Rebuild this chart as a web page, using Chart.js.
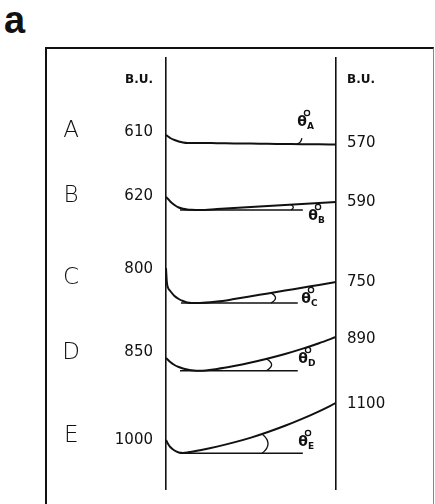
<!DOCTYPE html>
<html>
<head>
<meta charset="utf-8">
<script src="https://cdn.jsdelivr.net/npm/chart.js@4.4.1/dist/chart.umd.min.js"></script>
<style>
  body { margin: 0; background: #fff; }
  #wrap { position: relative; width: 435px; height: 504px; overflow: hidden; }
  #panel { position: absolute; left: 45px; top: 47px; width: 386px; height: 480px;
           border-top: 2px solid #111; border-left: 2px solid #111; border-right: 1px solid #888; }
  #tag { position: absolute; left: 4px; top: 1px; font: bold 38px 'Liberation Sans', Arial, sans-serif; line-height: 1; color: #111; }
  canvas { position: absolute; left: 0; top: 0; }
</style>
</head>
<body>
<div id="wrap">
  <div id="panel"></div>
  <div id="tag">a</div>
  <canvas id="chart" width="435" height="504"></canvas>
</div>
<script>
// mixing time (min) shared by all five traces
const minutes = [0, 0.1, 0.25, 0.5, 1, 1.5, 2, 2.5, 3, 4, 6, 8, 10, 12, 14, 16, 18, 20];
// trace heights, stacked top (A) to bottom (E)
const curveA = [354, 353.4, 352.5, 351, 349, 347.5, 346.5, 346, 346, 346, 345.8, 345.6, 345.4, 345.2, 345, 344.8, 344.7, 344.5];
const curveB = [292, 291.2, 290, 287.5, 284, 281.5, 280.2, 279.5, 279.2, 279, 280, 281, 282, 283, 284, 285, 286, 287];
const curveC = [221, 207, 201, 198, 193, 190, 188, 186.5, 186, 186, 187.4, 189.9, 192.7, 195.6, 198.4, 201.3, 204.1, 207];
const curveD = [131, 130.2, 129, 127, 124, 122, 120.5, 119.5, 118.8, 118.2, 120.1, 123, 126.5, 130.5, 135, 140.1, 145.8, 152];
const curveE = [49, 47.4, 45, 42, 38.5, 36.5, 36, 36.4, 37.3, 38.8, 42.4, 46.6, 51.4, 57, 63.2, 70.1, 77.7, 86];

const samples = ['A', 'B', 'C', 'D', 'E'];
const letterLevels = [357.5, 292.5, 211, 136, 52.5];

// B.U. readings at start and end of each trace
const startLabels = ['B.U.', '610', '620', '800', '850', '1000'];
const startLevels = [409, 357, 292.5, 220, 136.5, 49];
const endLabels = ['B.U.', '570', '590', '750', '890', '1100'];
const endLevels = [409, 346, 287, 207, 150, 85];

// horizontal reference lines under traces B..E
const baseLevel = [279, 186, 118.3, 35.7];
const baseFrom = [1.65, 1.76, 1.65, 1.76];
const baseTo = [16.1, 15.5, 15.5, 16.1];

// where the angle arcs sit and where the theta labels go (A..E)
const arcAt = [15.4, 14.7, 12.35, 11.8, 11.3];
const thetaT = [16.0, 17.3, 16.47, 16.12, 16.12];
const thetaV = [363, 269, 186, 126, 43];

const curves = [curveA, curveB, curveC, curveD, curveE];
const INK = '#111';

function valueAt(curve, t) {
  for (let i = 1; i < minutes.length; i++) {
    if (t <= minutes[i]) {
      const f = (t - minutes[i - 1]) / (minutes[i] - minutes[i - 1]);
      return curve[i - 1] + f * (curve[i] - curve[i - 1]);
    }
  }
  return curve[curve.length - 1];
}

const datasets = curves.map(c => ({
  data: minutes.map((m, i) => ({ x: m, y: c[i] })),
  borderColor: INK,
  borderWidth: 2,
  pointRadius: 0,
  cubicInterpolationMode: 'monotone',
  fill: false
})).concat(baseLevel.map((lv, i) => ({
  data: [{ x: baseFrom[i], y: lv }, { x: baseTo[i], y: lv }],
  borderColor: INK,
  borderWidth: 1.4,
  pointRadius: 0,
  fill: false
})));

// angle arcs and theta symbols
const angleMarks = {
  id: 'angleMarks',
  afterDatasetsDraw(chart) {
    const { ctx, scales: { x, y } } = chart;
    ctx.save();
    ctx.strokeStyle = INK;
    ctx.fillStyle = INK;
    ctx.lineWidth = 1.3;
    samples.forEach((s, i) => {
      const px = x.getPixelForValue(arcAt[i]);
      const top = y.getPixelForValue(valueAt(curves[i], arcAt[i]));
      ctx.beginPath();
      if (i === 0) {
        ctx.moveTo(px, top);
        ctx.quadraticCurveTo(px + 4, top - 1, px + 5, top - 6);
      } else {
        const bottom = y.getPixelForValue(baseLevel[i - 1]);
        const bulge = Math.min(6, (bottom - top) * 0.45);
        ctx.moveTo(px, top);
        ctx.quadraticCurveTo(px + 2 * bulge, (top + bottom) / 2, px, bottom);
      }
      ctx.stroke();

      const tx = x.getPixelForValue(thetaT[i]);
      const ty = y.getPixelForValue(thetaV[i]);
      ctx.font = "bold 14px 'DejaVu Sans'";
      ctx.textAlign = 'center';
      ctx.textBaseline = 'alphabetic';
      ctx.fillText('θ', tx, ty);
      ctx.beginPath();
      ctx.arc(tx + 5, ty - 13, 2.6, 0, Math.PI * 2);
      ctx.stroke();
      ctx.font = "bold 9px 'DejaVu Sans'";
      ctx.textAlign = 'left';
      ctx.fillText(s, tx + 5, ty + 3);
    });
    ctx.restore();
  }
};

function pinTicks(levels) {
  return s => { s.ticks = levels.map(v => ({ value: v })); };
}
function fixWidth(w) {
  return s => { s.width = w; s.paddingTop = 0; s.paddingBottom = 0; };
}
const buFont = { family: "'DejaVu Sans'", size: 12, weight: 'bold' };
const numFont = { family: "'DejaVu Sans'", size: 15 };

new Chart(document.getElementById('chart'), {
  type: 'line',
  data: { datasets },
  plugins: [angleMarks],
  options: {
    responsive: false,
    devicePixelRatio: 1,
    animation: false,
    layout: { padding: { top: 58, bottom: 15, left: 0, right: 0 } },
    plugins: { legend: { display: false }, tooltip: { enabled: false } },
    scales: {
      x: { type: 'linear', min: 0, max: 20, display: false },
      y: {
        type: 'linear', position: 'left', min: 0, max: 431, weight: 0,
        afterBuildTicks: pinTicks(startLevels),
        afterFit: fixWidth(81),
        grid: { display: false, drawTicks: false },
        border: { display: true, color: INK, width: 1.6 },
        ticks: {
          autoSkip: false, padding: 13, color: INK,
          font: c => (c.index === 0 ? buFont : numFont),
          callback: (v, i) => startLabels[i]
        }
      },
      letters: {
        type: 'linear', position: 'left', min: 0, max: 431, weight: 1,
        afterBuildTicks: pinTicks(letterLevels),
        afterFit: fixWidth(85),
        grid: { display: false, drawTicks: false },
        border: { display: false },
        ticks: {
          autoSkip: false, padding: 5, crossAlign: 'center', color: INK,
          font: { family: "'DejaVu Sans'", size: 23, weight: 200 },
          callback: (v, i) => samples[i]
        }
      },
      yEnd: {
        type: 'linear', position: 'right', min: 0, max: 431,
        afterBuildTicks: pinTicks(endLevels),
        afterFit: fixWidth(99),
        grid: { display: false, drawTicks: false },
        border: { display: true, color: INK, width: 1.6 },
        ticks: {
          autoSkip: false, padding: 11, color: INK,
          font: c => (c.index === 0 ? buFont : numFont),
          callback: (v, i) => endLabels[i]
        }
      }
    }
  }
});
</script>
</body>
</html>
